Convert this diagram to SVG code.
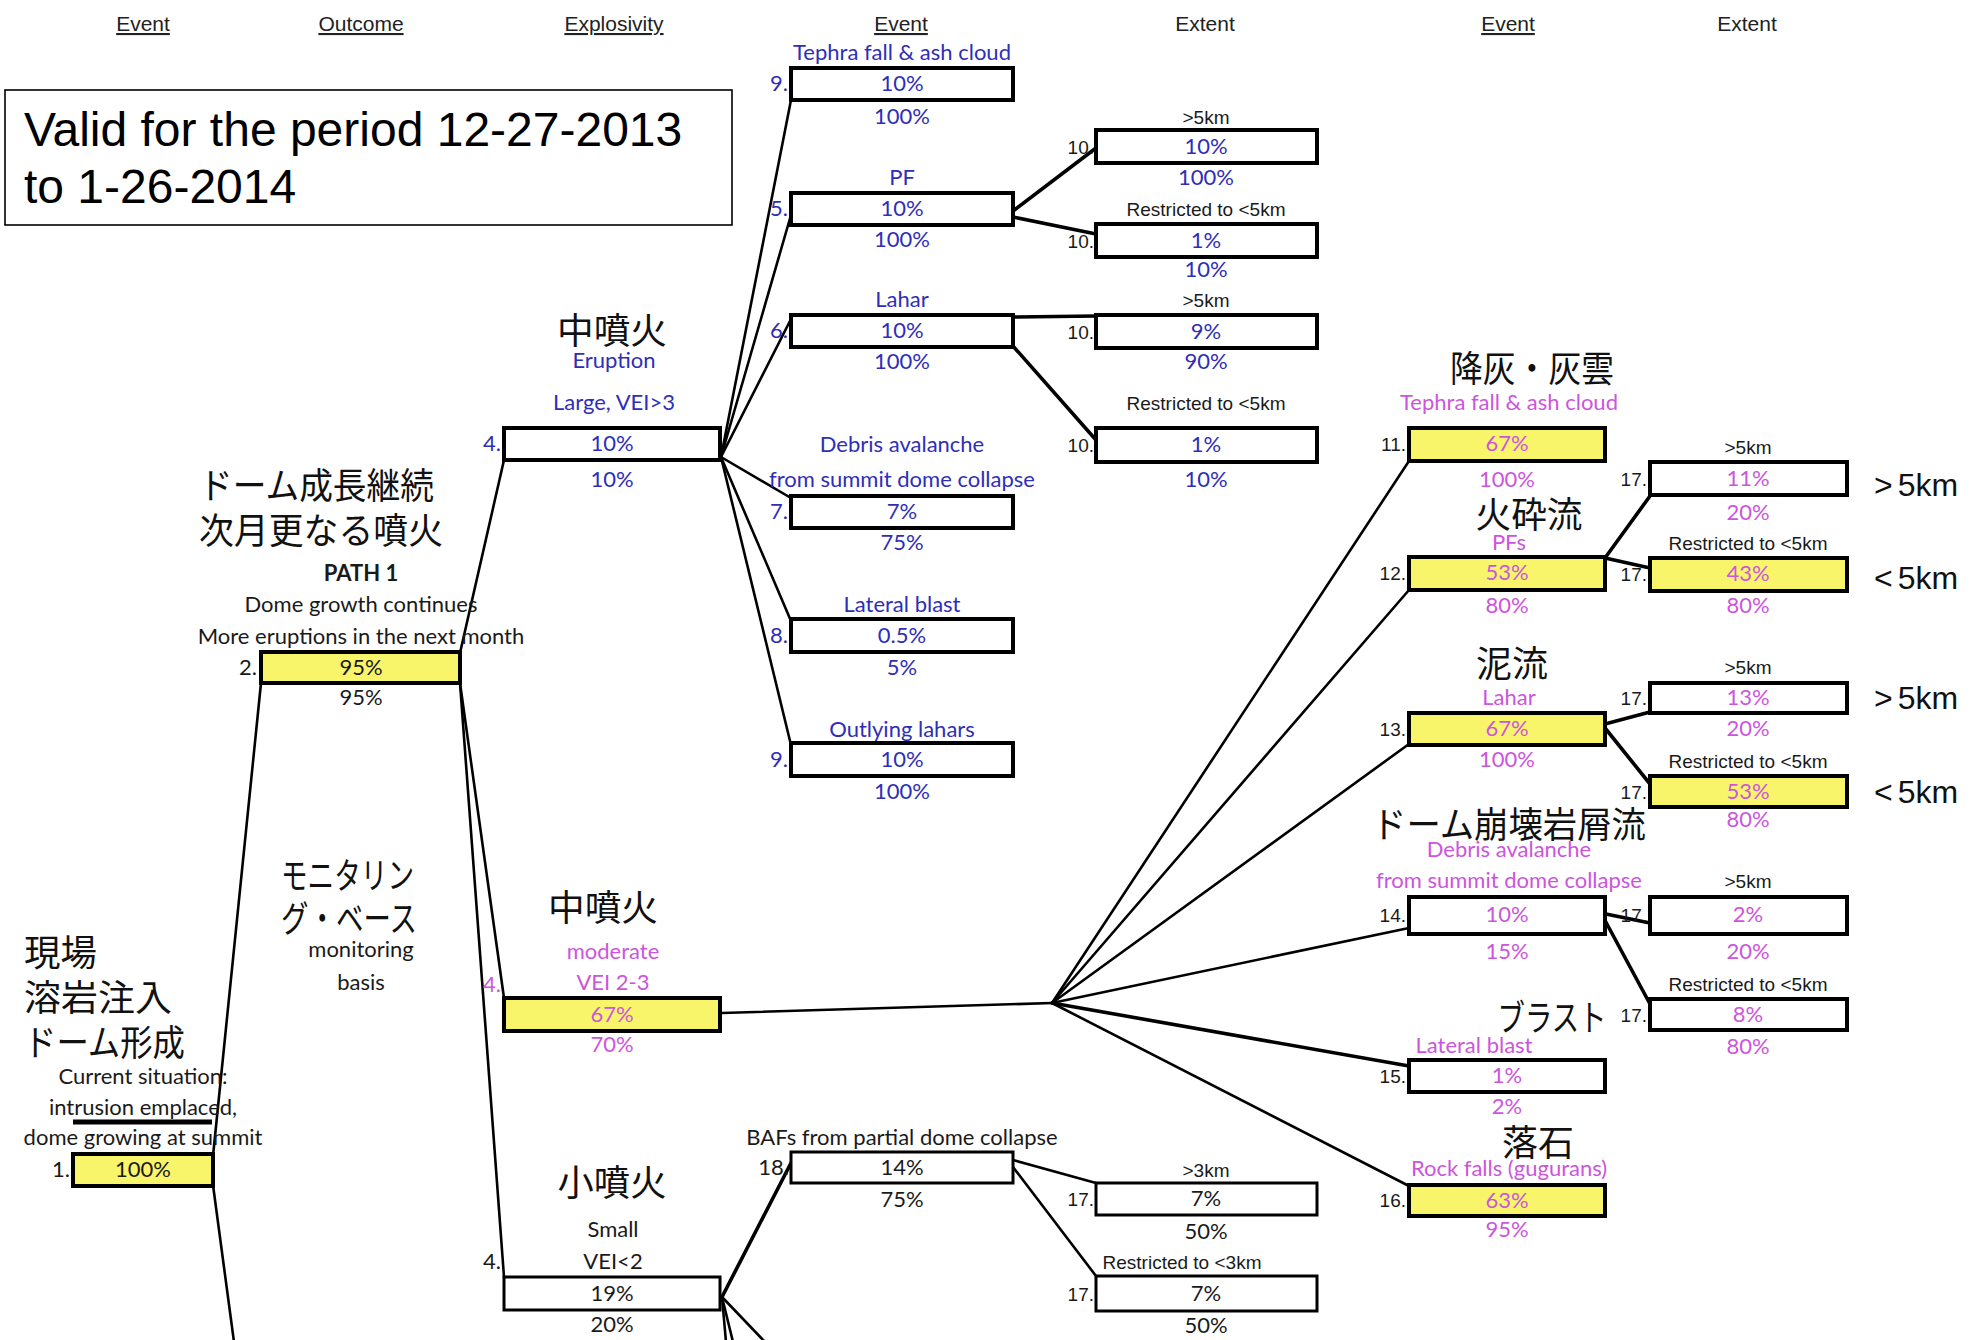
<svg xmlns="http://www.w3.org/2000/svg" width="1985" height="1340" viewBox="0 0 1985 1340">
<style>
  .bg { fill: #ffffff; }
  .box { fill: #ffffff; stroke: #000; stroke-width: 4; }
  .thin { stroke-width: 3; }
  .yel { fill: #f9f56b; }
  .ln { stroke: #000; stroke-width: 2.6; fill: none; stroke-linecap: round; }
  .lnb { stroke: #000; stroke-width: 3.6; fill: none; stroke-linecap: round; }
  .t { font-family: Lato, "Liberation Sans", sans-serif; font-size: 22px; text-anchor: middle; fill: #1a1a1a; }
  .a { font-family: "Liberation Sans", Arial, sans-serif; font-size: 19px; text-anchor: middle; fill: #1a1a1a; }
  .num { text-anchor: end; }
  .h { font-family: "Liberation Sans", Arial, sans-serif; font-size: 21px; text-anchor: middle; fill: #222; }
  .u { text-decoration: underline; }
  .j { font-family: "Noto Sans CJK JP", sans-serif; font-size: 36px; fill: #111; }
  .jm { text-anchor: middle; }
  .big { font-family: "Liberation Sans", Arial, sans-serif; font-size: 32px; fill: #111; }
  .title { font-family: "Liberation Sans", Arial, sans-serif; font-size: 48px; fill: #000; }
  .bl { fill: #2e2eb8; }
  .mg { fill: #cc55dd; }
</style>
<rect class="bg" x="0" y="0" width="1985" height="1340"/>

<!-- column headings -->
<g id="headings">
  <text class="h u" x="143" y="31">Event</text>
  <text class="h u" x="361" y="31">Outcome</text>
  <text class="h u" x="614" y="31">Explosivity</text>
  <text class="h u" x="901" y="31">Event</text>
  <text class="h" x="1205" y="31">Extent</text>
  <text class="h u" x="1508" y="31">Event</text>
  <text class="h" x="1747" y="31">Extent</text>
</g>

<!-- validity period -->
<g id="period">
  <rect x="5" y="90" width="727" height="135" fill="#fff" stroke="#000" stroke-width="1.6"/>
  <text class="title" x="24" y="146">Valid for the period 12-27-2013</text>
  <text class="title" x="24" y="203">to 1-26-2014</text>
</g>

<!-- connectors -->
<g id="connectors">
  <line class="ln" x1="213" y1="1156" x2="261" y2="683"/>
  <line class="ln" x1="213" y1="1185" x2="234" y2="1342"/>
  <line class="ln" x1="460" y1="653" x2="504" y2="460"/>
  <line class="ln" x1="460" y1="683" x2="504" y2="998"/>
  <line class="ln" x1="460" y1="683" x2="504" y2="1277"/>
  <!-- large eruption fan -->
  <line class="ln" x1="721" y1="457" x2="791" y2="100"/>
  <line class="ln" x1="721" y1="457" x2="791" y2="215"/>
  <line class="ln" x1="721" y1="457" x2="791" y2="319"/>
  <line class="ln" x1="721" y1="457" x2="791" y2="498"/>
  <line class="ln" x1="721" y1="457" x2="791" y2="621"/>
  <line class="ln" x1="721" y1="457" x2="791" y2="745"/>
  <line class="lnb" x1="1013" y1="211" x2="1096" y2="148"/>
  <line class="lnb" x1="1013" y1="217" x2="1096" y2="234"/>
  <line class="lnb" x1="1013" y1="317" x2="1096" y2="316"/>
  <line class="lnb" x1="1013" y1="346" x2="1096" y2="440"/>
  <!-- moderate eruption fan -->
  <line class="ln" x1="722" y1="1013" x2="1052" y2="1003"/>
  <line class="ln" x1="1052" y1="1003" x2="1409" y2="461"/>
  <line class="ln" x1="1052" y1="1003" x2="1409" y2="590"/>
  <line class="ln" x1="1052" y1="1003" x2="1409" y2="744"/>
  <line class="ln" x1="1052" y1="1003" x2="1409" y2="928"/>
  <line class="lnb" x1="1052" y1="1003" x2="1409" y2="1066"/>
  <line class="ln" x1="1052" y1="1003" x2="1409" y2="1186"/>
  <line class="lnb" x1="1605" y1="558" x2="1650" y2="496"/>
  <line class="lnb" x1="1605" y1="558" x2="1650" y2="568"/>
  <line class="lnb" x1="1605" y1="724" x2="1650" y2="712"/>
  <line class="lnb" x1="1605" y1="728" x2="1650" y2="784"/>
  <line class="lnb" x1="1601" y1="913" x2="1650" y2="923"/>
  <line class="lnb" x1="1601" y1="913" x2="1650" y2="1004"/>
  <!-- small eruption fan -->
  <line class="lnb" x1="722" y1="1297" x2="791" y2="1163"/>
  <line class="ln" x1="722" y1="1297" x2="726" y2="1342"/>
  <line class="ln" x1="722" y1="1297" x2="733" y2="1342"/>
  <line class="ln" x1="722" y1="1297" x2="765" y2="1342"/>
  <line class="ln" x1="1013" y1="1160" x2="1096" y2="1183"/>
  <line class="ln" x1="1013" y1="1167" x2="1096" y2="1276"/>
</g>

<!-- 1. current situation -->
<g id="n1">
  <text class="j" x="24" y="966" textLength="73" lengthAdjust="spacingAndGlyphs">現場</text>
  <text class="j" x="24" y="1011" textLength="148" lengthAdjust="spacingAndGlyphs">溶岩注入</text>
  <text class="j" x="24" y="1056" textLength="161" lengthAdjust="spacingAndGlyphs">ドーム形成</text>
  <text class="t" x="143" y="1084">Current situation:</text>
  <text class="t" x="143" y="1115">intrusion emplaced,</text>
  <line x1="73" y1="1122" x2="212" y2="1122" stroke="#000" stroke-width="5"/>
  <text class="t" x="143" y="1145">dome growing at summit</text>
  <rect class="box yel" x="73" y="1154" width="140" height="32"/>
  <text class="t num" x="70" y="1177">1.</text>
  <text class="t" x="143" y="1177">100%</text>
</g>

<!-- 2. outcome -->
<g id="n2">
  <text class="j" x="199" y="499" textLength="235" lengthAdjust="spacingAndGlyphs">ドーム成長継続</text>
  <text class="j" x="199" y="544" textLength="244" lengthAdjust="spacingAndGlyphs">次月更なる噴火</text>
  <text class="t" x="361" y="581" font-weight="bold">PATH 1</text>
  <text class="t" x="361" y="612">Dome growth continues</text>
  <text class="t" x="361" y="644">More eruptions in the next month</text>
  <rect class="box yel" x="261" y="652" width="199" height="31"/>
  <text class="t num" x="257" y="675">2.</text>
  <text class="t" x="361" y="675">95%</text>
  <text class="t" x="361" y="705">95%</text>
</g>

<g id="monitoring">
  <text class="j" x="281" y="889" textLength="133" lengthAdjust="spacingAndGlyphs">モニタリン</text>
  <text class="j" x="281" y="932" textLength="136" lengthAdjust="spacingAndGlyphs">グ・ベース</text>
  <text class="t" x="361" y="957">monitoring</text>
  <text class="t" x="361" y="990">basis</text>
</g>

<!-- 4. explosivity: large -->
<g id="n4-large">
  <text class="j jm" x="612" y="344" textLength="110" lengthAdjust="spacingAndGlyphs">中噴火</text>
  <text class="t bl" x="614" y="368">Eruption</text>
  <text class="t bl" x="614" y="410">Large, VEI&gt;3</text>
  <rect class="box" x="504" y="428" width="216" height="32"/>
  <text class="t num bl" x="501" y="451">4.</text>
  <text class="t bl" x="612" y="451">10%</text>
  <text class="t bl" x="612" y="487">10%</text>
</g>

<!-- 4. explosivity: moderate -->
<g id="n4-moderate">
  <text class="j jm" x="603" y="921" textLength="110" lengthAdjust="spacingAndGlyphs">中噴火</text>
  <text class="t mg" x="613" y="959">moderate</text>
  <text class="t mg" x="613" y="990">VEI 2-3</text>
  <rect class="box yel" x="504" y="998" width="216" height="33"/>
  <text class="t num mg" x="501" y="992">4.</text>
  <text class="t mg" x="612" y="1022">67%</text>
  <text class="t mg" x="612" y="1052">70%</text>
</g>

<!-- 4. explosivity: small -->
<g id="n4-small">
  <text class="j jm" x="612" y="1196" textLength="109" lengthAdjust="spacingAndGlyphs">小噴火</text>
  <text class="t" x="613" y="1237">Small</text>
  <text class="t" x="613" y="1269">VEI&lt;2</text>
  <rect class="box thin" x="504" y="1277" width="216" height="33"/>
  <text class="t num" x="501" y="1269">4.</text>
  <text class="t" x="612" y="1301">19%</text>
  <text class="t" x="612" y="1332">20%</text>
</g>

<!-- events after a large eruption -->
<g id="n9-tephra">
  <text class="t bl" x="902" y="60">Tephra fall &amp; ash cloud</text>
  <rect class="box" x="791" y="68" width="222" height="32"/>
  <text class="t num bl" x="788" y="91">9.</text>
  <text class="t bl" x="902" y="91">10%</text>
  <text class="t bl" x="902" y="124">100%</text>
</g>
<g id="n5-pf">
  <text class="t bl" x="902" y="185">PF</text>
  <rect class="box" x="791" y="193" width="222" height="32"/>
  <text class="t num bl" x="788" y="216">5.</text>
  <text class="t bl" x="902" y="216">10%</text>
  <text class="t bl" x="902" y="247">100%</text>
</g>
<g id="n6-lahar">
  <text class="t bl" x="902" y="307">Lahar</text>
  <rect class="box" x="791" y="315" width="222" height="32"/>
  <text class="t num bl" x="788" y="338">6.</text>
  <text class="t bl" x="902" y="338">10%</text>
  <text class="t bl" x="902" y="369">100%</text>
</g>
<g id="n7-debris">
  <text class="t bl" x="902" y="452">Debris avalanche</text>
  <text class="t bl" x="902" y="487">from summit dome collapse</text>
  <rect class="box" x="791" y="496" width="222" height="32"/>
  <text class="t num bl" x="788" y="519">7.</text>
  <text class="t bl" x="902" y="519">7%</text>
  <text class="t bl" x="902" y="550">75%</text>
</g>
<g id="n8-blast">
  <text class="t bl" x="902" y="612">Lateral blast</text>
  <rect class="box" x="791" y="619" width="222" height="33"/>
  <text class="t num bl" x="788" y="643">8.</text>
  <text class="t bl" x="902" y="643">0.5%</text>
  <text class="t bl" x="902" y="675">5%</text>
</g>
<g id="n9-outlying">
  <text class="t bl" x="902" y="737">Outlying lahars</text>
  <rect class="box" x="791" y="743" width="222" height="33"/>
  <text class="t num bl" x="788" y="767">9.</text>
  <text class="t bl" x="902" y="767">10%</text>
  <text class="t bl" x="902" y="799">100%</text>
</g>

<!-- extents after a large eruption -->
<g id="n10-pf-far">
  <text class="a" x="1206" y="124">&gt;5km</text>
  <rect class="box" x="1096" y="130" width="221" height="33"/>
  <text class="a num" x="1094" y="154">10.</text>
  <text class="t bl" x="1206" y="154">10%</text>
  <text class="t bl" x="1206" y="185">100%</text>
</g>
<g id="n10-pf-near">
  <text class="a" x="1206" y="216">Restricted to &lt;5km</text>
  <rect class="box" x="1096" y="224" width="221" height="33"/>
  <text class="a num" x="1094" y="248">10.</text>
  <text class="t bl" x="1206" y="248">1%</text>
  <text class="t bl" x="1206" y="277">10%</text>
</g>
<g id="n10-lahar-far">
  <text class="a" x="1206" y="307">&gt;5km</text>
  <rect class="box" x="1096" y="315" width="221" height="33"/>
  <text class="a num" x="1094" y="339">10.</text>
  <text class="t bl" x="1206" y="339">9%</text>
  <text class="t bl" x="1206" y="369">90%</text>
</g>
<g id="n10-lahar-near">
  <text class="a" x="1206" y="410">Restricted to &lt;5km</text>
  <rect class="box" x="1096" y="428" width="221" height="34"/>
  <text class="a num" x="1094" y="452">10.</text>
  <text class="t bl" x="1206" y="452">1%</text>
  <text class="t bl" x="1206" y="487">10%</text>
</g>

<!-- events after a small eruption -->
<g id="n18-baf">
  <text class="t" x="902" y="1145">BAFs from partial dome collapse</text>
  <rect class="box thin" x="791" y="1152" width="222" height="31"/>
  <text class="t num" x="789" y="1175">18.</text>
  <text class="t" x="902" y="1175">14%</text>
  <text class="t" x="902" y="1207">75%</text>
</g>
<g id="n17-baf-far">
  <text class="a" x="1206" y="1177">&gt;3km</text>
  <rect class="box thin" x="1096" y="1183" width="221" height="32"/>
  <text class="a num" x="1094" y="1206">17.</text>
  <text class="t" x="1206" y="1206">7%</text>
  <text class="t" x="1206" y="1239">50%</text>
</g>
<g id="n17-baf-near">
  <text class="a" x="1182" y="1269">Restricted to &lt;3km</text>
  <rect class="box thin" x="1096" y="1276" width="221" height="35"/>
  <text class="a num" x="1094" y="1301">17.</text>
  <text class="t" x="1206" y="1301">7%</text>
  <text class="t" x="1206" y="1333">50%</text>
</g>

<!-- events after a moderate eruption -->
<g id="n11-tephra">
  <text class="j jm" x="1532" y="382" textLength="164" lengthAdjust="spacingAndGlyphs">降灰・灰雲</text>
  <text class="t mg" x="1509" y="410">Tephra fall &amp; ash cloud</text>
  <rect class="box yel" x="1409" y="428" width="196" height="33"/>
  <text class="a num" x="1406" y="451">11.</text>
  <text class="t mg" x="1507" y="451">67%</text>
  <text class="t mg" x="1507" y="487">100%</text>
</g>
<g id="n12-pf">
  <text class="j jm" x="1529" y="528" textLength="107" lengthAdjust="spacingAndGlyphs">火砕流</text>
  <text class="t mg" x="1509" y="550">PFs</text>
  <rect class="box yel" x="1409" y="557" width="196" height="33"/>
  <text class="a num" x="1406" y="580">12.</text>
  <text class="t mg" x="1507" y="580">53%</text>
  <text class="t mg" x="1507" y="613">80%</text>
</g>
<g id="n13-lahar">
  <text class="j jm" x="1512" y="677" textLength="72" lengthAdjust="spacingAndGlyphs">泥流</text>
  <text class="t mg" x="1509" y="705">Lahar</text>
  <rect class="box yel" x="1409" y="713" width="196" height="32"/>
  <text class="a num" x="1406" y="736">13.</text>
  <text class="t mg" x="1507" y="736">67%</text>
  <text class="t mg" x="1507" y="767">100%</text>
</g>
<g id="n14-debris">
  <text class="j jm" x="1509" y="838" textLength="274" lengthAdjust="spacingAndGlyphs">ドーム崩壊岩屑流</text>
  <text class="t mg" x="1509" y="857">Debris avalanche</text>
  <text class="t mg" x="1509" y="888">from summit dome collapse</text>
  <rect class="box" x="1409" y="897" width="196" height="37"/>
  <text class="a num" x="1406" y="922">14.</text>
  <text class="t mg" x="1507" y="922">10%</text>
  <text class="t mg" x="1507" y="959">15%</text>
</g>
<g id="n15-blast">
  <text class="j jm" x="1552" y="1031" textLength="109" lengthAdjust="spacingAndGlyphs">ブラスト</text>
  <text class="t mg" x="1474" y="1053">Lateral blast</text>
  <rect class="box" x="1409" y="1060" width="196" height="32"/>
  <text class="a num" x="1406" y="1083">15.</text>
  <text class="t mg" x="1507" y="1083">1%</text>
  <text class="t mg" x="1507" y="1114">2%</text>
</g>
<g id="n16-rockfall">
  <text class="j jm" x="1538" y="1156" textLength="72" lengthAdjust="spacingAndGlyphs">落石</text>
  <text class="t mg" x="1509" y="1176">Rock falls (gugurans)</text>
  <rect class="box yel" x="1409" y="1185" width="196" height="31"/>
  <text class="a num" x="1406" y="1207">16.</text>
  <text class="t mg" x="1507" y="1208">63%</text>
  <text class="t mg" x="1507" y="1237">95%</text>
</g>

<!-- extents after a moderate eruption -->
<g id="n17-pf-far">
  <text class="a" x="1748" y="454">&gt;5km</text>
  <rect class="box" x="1650" y="462" width="197" height="33"/>
  <text class="a num" x="1647" y="486">17.</text>
  <text class="t mg" x="1748" y="486">11%</text>
  <text class="t mg" x="1748" y="520">20%</text>
</g>
<g id="n17-pf-near">
  <text class="a" x="1748" y="550">Restricted to &lt;5km</text>
  <rect class="box yel" x="1650" y="558" width="197" height="33"/>
  <text class="a num" x="1647" y="581">17.</text>
  <text class="t mg" x="1748" y="581">43%</text>
  <text class="t mg" x="1748" y="613">80%</text>
</g>
<g id="n17-lahar-far">
  <text class="a" x="1748" y="674">&gt;5km</text>
  <rect class="box" x="1650" y="683" width="197" height="30"/>
  <text class="a num" x="1647" y="705">17.</text>
  <text class="t mg" x="1748" y="705">13%</text>
  <text class="t mg" x="1748" y="736">20%</text>
</g>
<g id="n17-lahar-near">
  <text class="a" x="1748" y="768">Restricted to &lt;5km</text>
  <rect class="box yel" x="1650" y="776" width="197" height="31"/>
  <text class="a num" x="1647" y="799">17.</text>
  <text class="t mg" x="1748" y="799">53%</text>
  <text class="t mg" x="1748" y="827">80%</text>
</g>
<g id="n17-debris-far">
  <text class="a" x="1748" y="888">&gt;5km</text>
  <rect class="box" x="1650" y="897" width="197" height="37"/>
  <text class="a num" x="1647" y="922">17.</text>
  <text class="t mg" x="1748" y="922">2%</text>
  <text class="t mg" x="1748" y="959">20%</text>
</g>
<g id="n17-debris-near">
  <text class="a" x="1748" y="991">Restricted to &lt;5km</text>
  <rect class="box" x="1650" y="999" width="197" height="31"/>
  <text class="a num" x="1647" y="1022">17.</text>
  <text class="t mg" x="1748" y="1022">8%</text>
  <text class="t mg" x="1748" y="1054">80%</text>
</g>

<!-- reach labels -->
<g id="reach">
  <text class="big" x="1874" y="496">&gt;<tspan dx="5">5km</tspan></text>
  <text class="big" x="1874" y="589">&lt;<tspan dx="5">5km</tspan></text>
  <text class="big" x="1874" y="709">&gt;<tspan dx="5">5km</tspan></text>
  <text class="big" x="1874" y="803">&lt;<tspan dx="5">5km</tspan></text>
</g>
</svg>
